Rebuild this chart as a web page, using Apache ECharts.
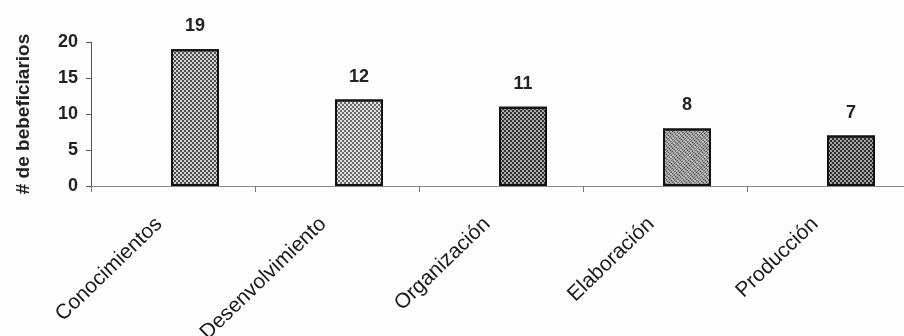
<!DOCTYPE html>
<html>
<head>
<meta charset="utf-8">
<script src="https://cdn.jsdelivr.net/npm/echarts@6/dist/echarts.min.js"></script>
<style>
  html, body { margin: 0; padding: 0; background: #fdfdfd; }
  #chart { width: 904px; height: 336px; }
</style>
</head>
<body>
<div id="chart"></div>
<script>
// Beneficiaries per training area
const categories = ['Conocimientos', 'Desenvolvimiento', 'Organización', 'Elaboración', 'Producción'];
const values = [19, 12, 11, 8, 7];
const yTicks = [0, 5, 10, 15, 20];

// Hatch/checker fill for each bar: [base colour, pattern colour, rotation]
const fills = [
  ['#cfcfcf', '#505050', 0],
  ['#e0e0e0', '#6a6a6a', 0],
  ['#ababab', '#333333', 0],
  ['#c4c4c4', '#3a3a3a', Math.PI / 4],
  ['#a4a4a4', '#2e2e2e', 0]
];

const FONT = '"Liberation Sans", Arial, sans-serif';
const plotTop = 42, plotHeight = 144, plotWidth = 820;

const chart = echarts.init(document.getElementById('chart'), null, { renderer: 'canvas' });

const barData = values.map((v, i) => ({
  value: v,
  itemStyle: {
    color: fills[i][0],
    borderColor: '#111',
    borderWidth: 2,
    decal: {
      symbol: 'rect',
      symbolSize: 1,
      dashArrayX: fills[i][2] ? [1, 1] : [[2, 2], [0, 2, 2, 0]],
      dashArrayY: fills[i][2] ? [2, 1] : [2, 0],
      rotation: fills[i][2],
      color: fills[i][1]
    }
  }
}));

const option = {
  backgroundColor: '#fdfdfd',
  animation: false,
  grid: [
    // visible axes
    { left: 91, top: plotTop, width: plotWidth, height: plotHeight, outerBoundsMode: 'none' },
    // bars, drawn right of each band centre
    { left: 113, top: plotTop, width: plotWidth, height: plotHeight, outerBoundsMode: 'none' },
    // rotated category labels
    { left: 77, top: plotTop, width: plotWidth, height: plotHeight, outerBoundsMode: 'none' }
  ],
  xAxis: [
    {
      gridIndex: 0, type: 'category', data: categories,
      boundaryGap: true,
      axisLine: { lineStyle: { color: '#8a8a8a', width: 1 } },
      axisTick: { show: true, length: 6, alignWithLabel: false, lineStyle: { color: '#777' } },
      axisLabel: { show: false }
    },
    {
      gridIndex: 1, type: 'category', data: categories,
      show: false
    },
    {
      gridIndex: 2, type: 'category', data: categories,
      axisLine: { show: false },
      axisTick: { show: false },
      axisLabel: {
        show: true, interval: 0, rotate: 44, margin: 35,
        fontFamily: FONT, fontSize: 21, color: '#1a1a1a'
      }
    }
  ],
  yAxis: [
    {
      gridIndex: 0, type: 'value', min: 0, max: 20, interval: 5,
      name: '# de bebeficiarios', nameLocation: 'middle', nameGap: 58,
      nameTextStyle: { fontFamily: FONT, fontSize: 19, fontWeight: 'bold', color: '#222' },
      axisLine: { show: true, lineStyle: { color: '#555', width: 1 } },
      axisTick: { show: true, length: 5, lineStyle: { color: '#555' } },
      axisLabel: {
        margin: 13, fontFamily: FONT, fontSize: 18, fontWeight: 'bold', color: '#222',
        formatter: v => (yTicks.includes(v) ? String(v) : '')
      },
      splitLine: { show: false }
    },
    { gridIndex: 1, type: 'value', min: 0, max: 20, interval: 5, show: false, splitLine: { show: false } },
    { gridIndex: 2, type: 'value', min: 0, max: 20, interval: 5, show: false, splitLine: { show: false } }
  ],
  series: [
    {
      type: 'bar',
      xAxisIndex: 1, yAxisIndex: 1,
      barWidth: 48,
      data: barData,
      label: {
        show: true, position: 'top', distance: 14,
        fontFamily: FONT, fontSize: 18, fontWeight: 'bold', color: '#222'
      }
    }
  ]
};

chart.setOption(option);
</script>
</body>
</html>
